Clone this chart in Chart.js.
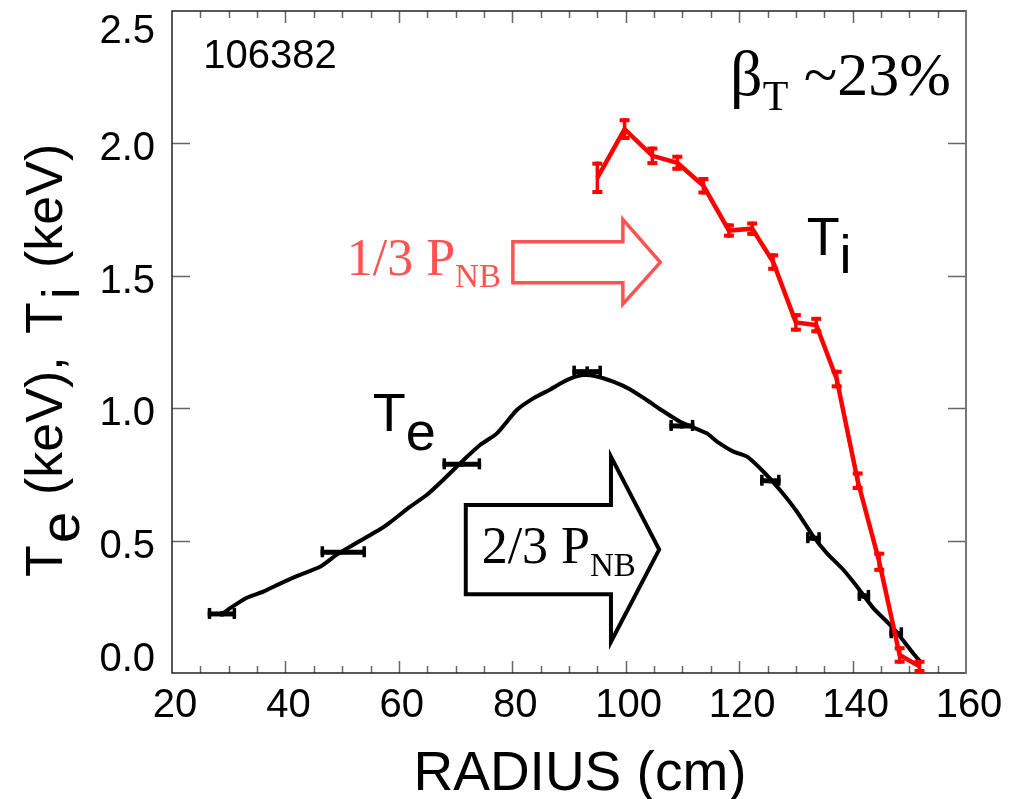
<!DOCTYPE html>
<html>
<head>
<meta charset="utf-8">
<script src="https://cdn.jsdelivr.net/npm/chart.js@4.4.1/dist/chart.umd.min.js"></script>
<style>
    html, body { margin: 0; padding: 0; background: #fff; }
    #profileChart { display: block; }
</style>
</head>
<body>
<canvas id="profileChart" width="1021" height="799"></canvas>
<script>
// Ion temperature (CHERS) with vertical error bars
const tiRadius = [95.0, 99.8, 104.7, 109.1, 113.7, 118.2, 122.3, 126.0, 130.0, 133.6, 137.2, 140.9, 144.7, 148.3, 151.8];
const tiValues = [1.87, 2.054, 1.953, 1.927, 1.84, 1.671, 1.678, 1.552, 1.324, 1.314, 1.11, 0.726, 0.42, 0.068, 0.025];
const tiErr    = [0.061, 0.041, 0.035, 0.03, 0.033, 0.027, 0.027, 0.033, 0.035, 0.031, 0.035, 0.035, 0.038, 0.033, 0.025];

// Electron temperature (Thomson) with radial error bars
const teRadius = [28.8, 50.2, 71.1, 93.2, 109.9, 125.5, 133.1, 142.0, 147.7];
const teValues = [0.223, 0.456, 0.788, 1.138, 0.933, 0.726, 0.509, 0.291, 0.150];
const teErrR   = [2.5, 4.0, 3.4, 2.6, 2.2, 1.8, 1.3, 1.1, 1.2];
const teErrT   = [0.01, 0.008, 0.01, 0.02, 0.01, 0.01, 0.01, 0.01, 0.01];

// Smoothed Te profile
const fitRadius = [29.0, 30.2, 33.2, 36.1, 38.5, 42.0, 46.1, 49.0, 52.6, 56.7, 58.4, 62.0, 64.9, 67.8, 71.4, 74.3, 77.3, 80.8, 83.7, 86.7, 89.6, 92.5, 94.9, 97.8, 100.8, 103.7, 105.8, 109.6, 114.3, 116.1, 119.0, 121.4, 124.3, 127.2, 130.2, 133.1, 135.5, 138.4, 140.8, 143.7, 147.2, 150.7, 152.2];
const fitTe     = [0.225, 0.244, 0.284, 0.307, 0.332, 0.366, 0.401, 0.446, 0.492, 0.543, 0.568, 0.628, 0.672, 0.729, 0.804, 0.861, 0.905, 0.993, 1.037, 1.071, 1.106, 1.125, 1.12, 1.100, 1.071, 1.031, 1.000, 0.949, 0.905, 0.874, 0.836, 0.817, 0.760, 0.691, 0.609, 0.515, 0.452, 0.389, 0.326, 0.244, 0.169, 0.074, 0.037];

const xTickValues = [20, 40, 60, 80, 100, 120, 140, 160];
const yTickValues = [0, 0.5, 1.0, 1.5, 2.0, 2.5];
const yTickLabels = ['0.0', '0.5', '1.0', '1.5', '2.0', '2.5'];

const SANS = '"Liberation Sans", Arial, Helvetica, sans-serif';
const SERIF = '"Liberation Serif", "Times New Roman", serif';
const NB_RED = '#ff5252';

function toPoints(xs, ys) {
    return xs.map((x, i) => ({ x: x, y: ys[i] }));
}

function line(c, x0, y0, x1, y1) {
    c.beginPath();
    c.moveTo(x0, y0);
    c.lineTo(x1, y1);
    c.stroke();
}

// draw text pieces one after another, each with its own font and baseline shift
function drawRuns(c, x, y, runs) {
    runs.forEach(([txt, font, dy]) => {
        c.font = font;
        c.fillText(txt, x, y + dy);
        x += c.measureText(txt).width;
    });
}

// box frame with inward ticks on all four sides
const frame = {
    id: 'frame',
    beforeDatasetsDraw(chart) {
        const c = chart.ctx;
        const { left, right, top, bottom } = chart.chartArea;
        const xs = chart.scales.x, ys = chart.scales.y;
        c.save();
        c.strokeStyle = '#666';
        c.lineWidth = 1.5;
        for (let v = 25; v < 160; v += 5) {
            const px = Math.round(xs.getPixelForValue(v)) + 0.5;
            const len = xTickValues.includes(v) ? 12 : 7;
            line(c, px, bottom, px, bottom - len);
            line(c, px, top, px, top + len);
        }
        yTickValues.forEach(v => {
            if (v === 0 || v === 2.5) return;
            const py = Math.round(ys.getPixelForValue(v)) + 0.5;
            line(c, left, py, left + 18, py);
            line(c, right, py, right - 18, py);
        });
        c.strokeStyle = '#222';
        c.lineWidth = 1.5;
        c.strokeRect(left, top, right - left, bottom - top);
        c.strokeStyle = '#777';
        c.lineWidth = 2;
        line(c, right, top, right, bottom);
        c.restore();
    }
};

const errorBars = {
    id: 'errorBars',
    afterDatasetDraw(chart, args) {
        const ds = chart.data.datasets[args.index];
        if (!ds.errX && !ds.errY) return;
        const c = chart.ctx;
        const xs = chart.scales.x, ys = chart.scales.y;
        c.save();
        c.strokeStyle = ds.errColor;
        c.lineCap = 'butt';
        ds.data.forEach((p, i) => {
            const cx = xs.getPixelForValue(p.x);
            const cy = ys.getPixelForValue(p.y);
            if (ds.errX) {
                const x0 = xs.getPixelForValue(p.x - ds.errX[i]);
                const x1 = xs.getPixelForValue(p.x + ds.errX[i]);
                c.lineWidth = 5;
                line(c, x0, cy, x1, cy);
                c.lineWidth = 3.5;
                line(c, x0 + 1.75, cy - 6, x0 + 1.75, cy + 5);
                line(c, x1 - 1.75, cy - 6, x1 - 1.75, cy + 5);
            }
            if (ds.errY) {
                const y0 = ys.getPixelForValue(p.y - ds.errY[i]);
                const y1 = ys.getPixelForValue(p.y + ds.errY[i]);
                c.lineWidth = ds.errX ? 3.5 : 3.5;
                line(c, cx, y0, cx, y1);
                if (!ds.errX) {
                    c.lineWidth = 4;
                    line(c, cx - 5, y0 - 2, cx + 5, y0 - 2);
                    line(c, cx - 5, y1 + 2, cx + 5, y1 + 2);
                }
            }
        });
        c.restore();
    }
};

// outline arrow: body from x0 to xh, head to the tip
function drawArrow(chart, a, color, width) {
    const xs = chart.scales.x, ys = chart.scales.y;
    const X = v => xs.getPixelForValue(v), Y = v => ys.getPixelForValue(v);
    const c = chart.ctx;
    c.save();
    c.strokeStyle = color;
    c.lineWidth = width;
    c.lineJoin = 'miter';
    c.beginPath();
    c.moveTo(X(a.x0), Y(a.bodyTop));
    c.lineTo(X(a.xh), Y(a.bodyTop));
    c.lineTo(X(a.xh), Y(a.headTop));
    c.lineTo(X(a.tip), Y(a.mid));
    c.lineTo(X(a.xh), Y(a.headBottom));
    c.lineTo(X(a.xh), Y(a.bodyBottom));
    c.lineTo(X(a.x0), Y(a.bodyBottom));
    c.closePath();
    c.stroke();
    c.restore();
}

const annotations = {
    id: 'annotations',
    afterDraw(chart) {
        const c = chart.ctx;
        const xs = chart.scales.x, ys = chart.scales.y;
        const X = v => xs.getPixelForValue(v), Y = v => ys.getPixelForValue(v);
        const { left, top, bottom } = chart.chartArea;

        drawArrow(chart, { x0: 80.1, xh: 99.5, tip: 106.1, bodyTop: 1.629, bodyBottom: 1.474, headTop: 1.713, headBottom: 1.393, mid: 1.551 }, NB_RED, 3.5);
        drawArrow(chart, { x0: 71.8, xh: 97.4, tip: 105.9, bodyTop: 0.634, bodyBottom: 0.297, headTop: 0.817, headBottom: 0.118, mid: 0.466 }, '#000', 4);

        c.save();
        c.textBaseline = 'alphabetic';
        c.textAlign = 'left';

        c.fillStyle = '#000';
        c.font = '40px ' + SANS;
        c.fillText('106382', X(25.5), Y(2.285));

        drawRuns(c, X(118.4), Y(2.184), [
            ['\u03B2', '64px ' + SERIF, 0],
            ['T', '42px ' + SERIF, 15],
            [' ~23%', '62px ' + SERIF, 0]
        ]);

        drawRuns(c, X(131.9), Y(1.579), [
            ['T', '54px ' + SANS, 0],
            ['i', '54px ' + SANS, 18]
        ]);
        drawRuns(c, X(55.4), Y(0.915), [
            ['T', '54px ' + SANS, 0],
            ['e', '54px ' + SANS, 19]
        ]);

        c.fillStyle = NB_RED;
        drawRuns(c, X(50.8), Y(1.503), [
            ['1/3 P', '52px ' + SERIF, 0],
            ['NB', '33px ' + SERIF, 12]
        ]);
        c.fillStyle = '#000';
        drawRuns(c, X(74.6), Y(0.414), [
            ['2/3 P', '52px ' + SERIF, 0],
            ['NB', '33px ' + SERIF, 13]
        ]);

        // y tick labels, kept inside the axis span at both ends
        c.font = '40px ' + SANS;
        c.textAlign = 'right';
        c.textBaseline = 'middle';
        yTickValues.forEach((v, i) => {
            let py = Y(v) + 6;
            py = Math.min(Math.max(py, top + 21), bottom - 13);
            c.fillText(yTickLabels[i], left - 17, py);
        });

        // x axis title
        c.textAlign = 'center';
        c.textBaseline = 'alphabetic';
        c.font = '55px ' + SANS;
        c.fillText('RADIUS (cm)', 580, 790);

        // y axis title with subscripts, reading bottom to top
        c.translate(62, 577);
        c.rotate(-Math.PI / 2);
        c.textAlign = 'left';
        const f = '52px ' + SANS;
        [['T', 0, 0], ['e', 34, 17], ['(keV),', 82, 0], ['T', 243, 0], ['i', 278, 17], ['(keV)', 309, 0]].forEach(([t, off, dy]) => {
            c.font = t === 'e' ? '56px ' + SANS : f;
            c.fillText(t, off, dy);
        });
        c.restore();
    }
};

const ctx = document.getElementById('profileChart').getContext('2d');
const profileChart = new Chart(ctx, {
    type: 'line',
    data: {
        datasets: [
            {
                label: 'Ti',
                data: toPoints(tiRadius, tiValues),
                borderColor: '#ff0000',
                borderWidth: 4.5,
                pointRadius: 0,
                tension: 0,
                errY: tiErr,
                errColor: '#ff0000'
            },
            {
                label: 'Te',
                data: toPoints(teRadius, teValues),
                showLine: false,
                pointRadius: 0,
                errX: teErrR,
                errY: teErrT,
                errColor: '#000'
            },
            {
                label: 'Te profile',
                data: toPoints(fitRadius, fitTe),
                borderColor: '#000',
                borderWidth: 4,
                pointRadius: 0,
                tension: 0.2
            }
        ]
    },
    options: {
        responsive: false,
        animation: false,
        devicePixelRatio: 1,
        layout: { padding: { top: 11, right: 55, left: 0, bottom: 0 } },
        plugins: {
            legend: { display: false },
            tooltip: { enabled: false }
        },
        scales: {
            x: {
                type: 'linear',
                min: 20,
                max: 160,
                afterFit: scale => { scale.height = 126; },
                grid: { display: false, drawTicks: false },
                border: { display: false },
                ticks: {
                    stepSize: 20,
                    padding: 9,
                    labelOffset: 3,
                    maxRotation: 0,
                    autoSkip: false,
                    color: '#000',
                    font: { family: SANS, size: 40 }
                }
            },
            y: {
                type: 'linear',
                min: 0,
                max: 2.5,
                afterFit: scale => { scale.width = 172; },
                grid: { display: false, drawTicks: false },
                border: { display: false },
                ticks: { display: false, stepSize: 0.5 }
            }
        }
    },
    plugins: [frame, errorBars, annotations]
});
</script>
</body>
</html>
